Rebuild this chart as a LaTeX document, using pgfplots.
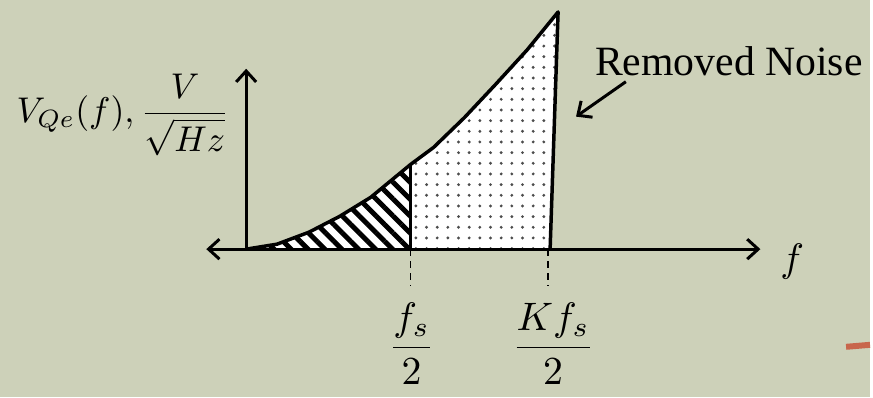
\documentclass[border=0pt]{standalone}
\usepackage{amsmath}
\usepackage{pgfplots}
\pgfplotsset{compat=1.18}
\usepackage{fontspec}
\setmainfont{Liberation Serif}
\usetikzlibrary{arrows.meta,patterns.meta}
\definecolor{bg}{RGB}{205,209,185}
\definecolor{accent}{RGB}{200,102,76}
\begin{document}
\begin{tikzpicture}[
  barb/.style={-{Straight Barb[length=11bp,width=20bp,line width=3bp]}},
  dbarb/.style={{Straight Barb[length=11bp,width=20bp,line width=3bp]}-{Straight Barb[length=11bp,width=20bp,line width=3bp]}},
]
\begin{axis}[
  width=873bp, height=398bp, scale only axis,
  xmin=0, xmax=873, ymin=0, ymax=398,
  hide axis, clip=false,
]
% canvas
\fill[bg] (axis cs:0,0) rectangle (axis cs:873,398);

% in-band part of the noise spectrum (0 .. fs/2)
\addplot[fill=white, draw=none] coordinates {
  (247,148) (278,153) (310,165) (341,181) (372,200) (412,233) (412,148)
} -- cycle;
\addplot[draw=none, pattern={Lines[angle=-45,distance=12bp,line width=5bp]}, pattern color=black] coordinates {
  (247,148) (278,153) (310,165) (341,181) (372,200) (412,233) (412,148)
} -- cycle;

% removed part (fs/2 .. K fs/2)
\addplot[fill=white, draw=none] coordinates {
  (412,148) (412,233) (435,250) (466,280) (497,313) (529,348) (560,386) (552,148)
} -- cycle;
\addplot[draw=none, pattern={Dots[distance=10.7bp,radius=1.6bp]}, pattern color=black!70] coordinates {
  (412,148) (412,233) (435,250) (466,280) (497,313) (529,348) (560,386) (552,148)
} -- cycle;

% spectrum outline
\addplot[black, line width=3.5bp, line join=round] coordinates {
  (247,148) (278,153) (310,165) (341,181) (372,200) (412,233)
  (435,250) (466,280) (497,313) (529,348) (560,386) (552,148)
};
\addplot[black, line width=3bp] coordinates {(412,233) (412,148)};

% axes
\draw[dbarb, line width=3bp] (axis cs:207,148) -- (axis cs:763,148);
\draw[barb, line width=3bp] (axis cs:247,148) -- (axis cs:247,329);

% frequency markers
\addplot[black, line width=1.6bp, dash pattern=on 7bp off 5bp] coordinates {(412,148) (412,111)};
\addplot[black, line width=1.6bp, dash pattern=on 7bp off 5bp] coordinates {(550,148) (550,111)};

\node[scale=4] at (axis cs:413,53) {$\dfrac{f_s}{2}$};
\node[scale=4] at (axis cs:555,53) {$\dfrac{Kf_s}{2}$};
\node[scale=4] at (axis cs:795,136) {$f$};
\node[anchor=east, inner sep=0pt, scale=3.6] at (axis cs:231,283) {$V_{Qe}(f),\dfrac{V}{\sqrt{Hz}}$};

\node[anchor=base west, inner sep=0pt] at (axis cs:597,322) {\fontsize{42}{48}\selectfont Removed Noise};
\draw[barb, line width=3bp] (axis cs:628,316) -- (axis cs:578,281);

\draw[accent, line width=6bp] (axis cs:849,50) -- (axis cs:873,52);
\end{axis}
\end{tikzpicture}
\end{document}
